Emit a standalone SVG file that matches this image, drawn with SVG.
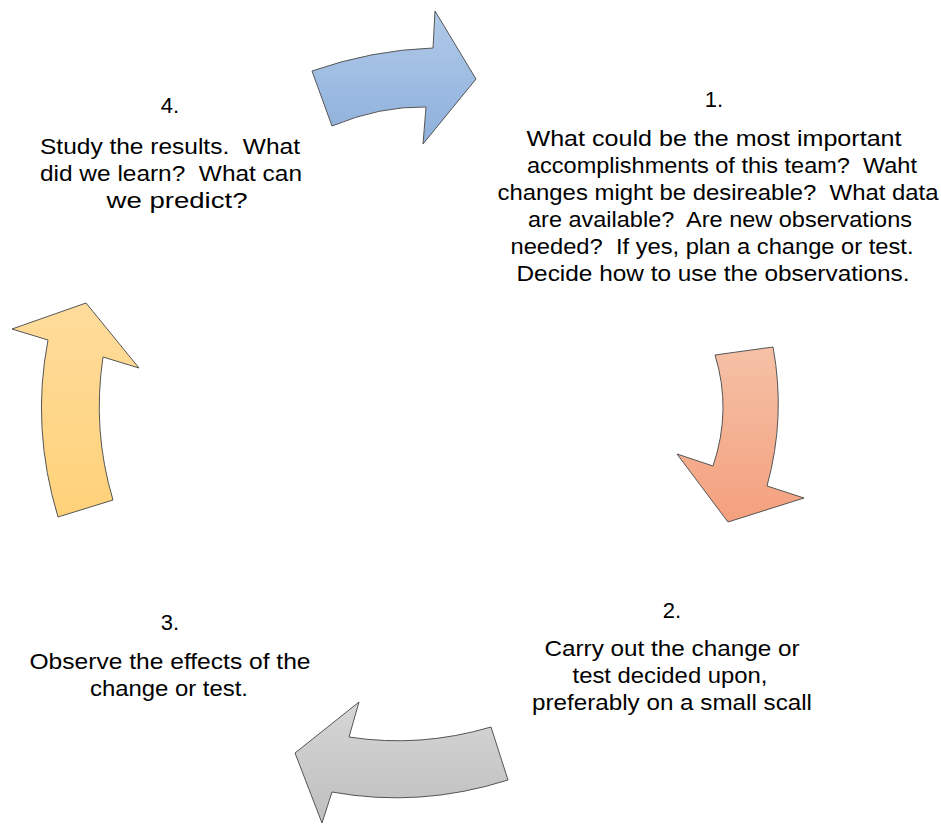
<svg xmlns="http://www.w3.org/2000/svg" width="941" height="824" viewBox="0 0 941 824">
<defs>
<linearGradient id="gBlue" x1="0" y1="0" x2="0" y2="1"><stop offset="0" stop-color="#b0c9e8"/><stop offset="1" stop-color="#8eb0dc"/></linearGradient>
<linearGradient id="gOrange" x1="0" y1="0" x2="0" y2="1"><stop offset="0" stop-color="#f5c1a6"/><stop offset="1" stop-color="#f4a07e"/></linearGradient>
<linearGradient id="gYellow" x1="0" y1="0" x2="0" y2="1"><stop offset="0" stop-color="#ffdc9c"/><stop offset="1" stop-color="#ffd279"/></linearGradient>
<linearGradient id="gGray" x1="0" y1="0" x2="0" y2="1"><stop offset="0" stop-color="#d6d6d6"/><stop offset="1" stop-color="#bfbfbf"/></linearGradient>
</defs>
<style>
.arrow{stroke:#555;stroke-width:1;stroke-linejoin:miter}
text{font-family:"Liberation Sans",Arial,sans-serif;font-size:22px;fill:#000;text-anchor:middle}
</style>
<g id="connectors">
<path class="arrow" fill="url(#gBlue)" d="M312,71 Q372,50 433,48 L435,11 L476,79 L423,144 L426,107 Q380,106 332,126 Z"/>
<path class="arrow" fill="url(#gOrange)" d="M715,355 L773,347 Q786,417 767,486 L804,498 L728,522 L677,454 L713,466 Q732,410 715,355 Z"/>
<path class="arrow" fill="url(#gGray)" d="M491,727 L508,780 Q420,808 332,792 L322,823 L295,753 L359,702 L349,737 Q420,748 491,727 Z"/>
<path class="arrow" fill="url(#gYellow)" d="M58,517 L113,500 Q92,430 103,357 L139,368 L86,303 L12,329 L48,340 Q31,428 58,517 Z"/>
</g>
<g id="step1">
<text x="714" y="107">1.</text>
<text x="714" y="146" xml:space="preserve" textLength="375" lengthAdjust="spacingAndGlyphs">What could be the most important</text>
<text x="722" y="173" xml:space="preserve" textLength="390" lengthAdjust="spacingAndGlyphs">accomplishments of this team?  Waht</text>
<text x="718" y="200" xml:space="preserve" textLength="441" lengthAdjust="spacingAndGlyphs">changes might be desireable?  What data</text>
<text x="720" y="227" xml:space="preserve" textLength="384" lengthAdjust="spacingAndGlyphs">are available?  Are new observations</text>
<text x="712" y="254" xml:space="preserve" textLength="403" lengthAdjust="spacingAndGlyphs">needed?  If yes, plan a change or test.</text>
<text x="713" y="281" xml:space="preserve" textLength="393" lengthAdjust="spacingAndGlyphs">Decide how to use the observations.</text>
</g>
<g id="step2">
<text x="672" y="618">2.</text>
<text x="672" y="656" xml:space="preserve" textLength="255" lengthAdjust="spacingAndGlyphs">Carry out the change or</text>
<text x="670" y="683" xml:space="preserve" textLength="195" lengthAdjust="spacingAndGlyphs">test decided upon,</text>
<text x="672" y="710" xml:space="preserve" textLength="280" lengthAdjust="spacingAndGlyphs">preferably on a small scall</text>
</g>
<g id="step3">
<text x="170" y="630">3.</text>
<text x="170" y="669" xml:space="preserve" textLength="281" lengthAdjust="spacingAndGlyphs">Observe the effects of the</text>
<text x="169" y="696" xml:space="preserve" textLength="158" lengthAdjust="spacingAndGlyphs">change or test.</text>
</g>
<g id="step4">
<text x="170" y="113">4.</text>
<text x="170" y="154" xml:space="preserve" textLength="260" lengthAdjust="spacingAndGlyphs">Study the results.  What</text>
<text x="171" y="181" xml:space="preserve" textLength="262" lengthAdjust="spacingAndGlyphs">did we learn?  What can</text>
<text x="177" y="208" xml:space="preserve" textLength="141" lengthAdjust="spacingAndGlyphs">we predict?</text>
</g>
</svg>
